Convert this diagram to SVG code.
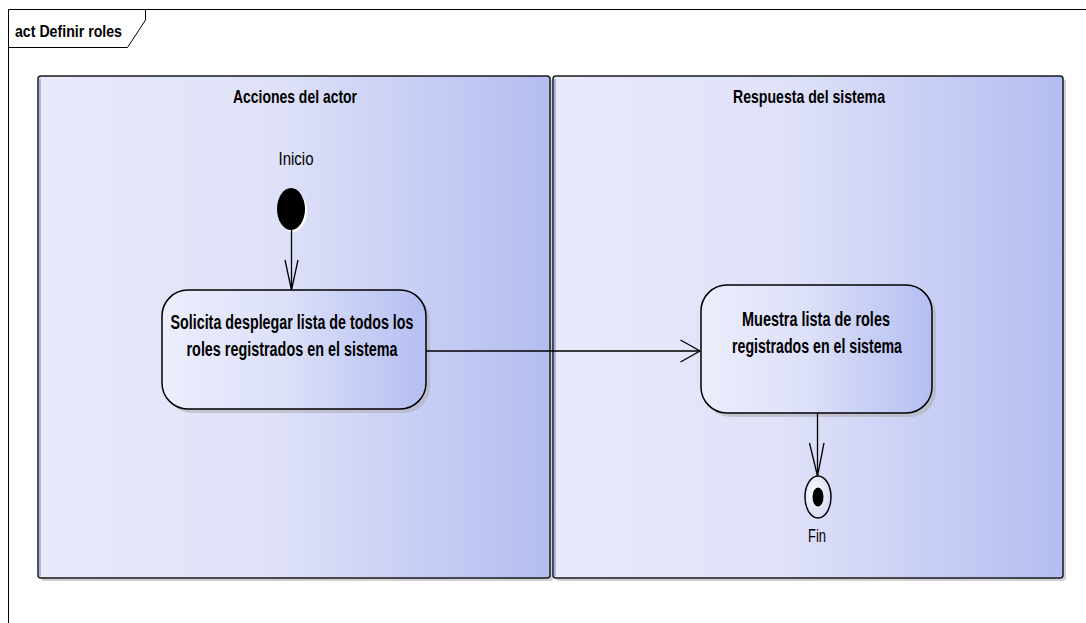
<svg xmlns="http://www.w3.org/2000/svg" width="1086" height="623" viewBox="0 0 1086 623">
<defs>
<linearGradient id="gpart" x1="0" y1="0" x2="1" y2="0">
<stop offset="0" stop-color="#e8eafa"/>
<stop offset="0.45" stop-color="#dfe2f8"/>
<stop offset="1" stop-color="#b4bdf1"/>
</linearGradient>
<linearGradient id="gact" x1="0" y1="0" x2="1" y2="0">
<stop offset="0" stop-color="#eceefc"/>
<stop offset="0.45" stop-color="#dde1f9"/>
<stop offset="1" stop-color="#b5bef2"/>
</linearGradient>
<radialGradient id="gfin" cx="0.4" cy="0.4" r="0.7">
<stop offset="0" stop-color="#ffffff"/>
<stop offset="1" stop-color="#d0d5f4"/>
</radialGradient>
</defs>
<style>
.frame{fill:none;stroke:#000;stroke-width:1}
.part{fill:url(#gpart);stroke:#1a1a1a;stroke-width:1.5}
.act{fill:url(#gact);stroke:#000;stroke-width:1.5}
.shadow{fill:#b0b0b8;opacity:0.6}
.t{font-family:"Liberation Sans Narrow","Liberation Sans",Arial,sans-serif;fill:#000}
.b{font-weight:bold}
.edge{fill:none;stroke:#000;stroke-width:1.3}
</style>
<g id="frame">
<path class="frame" d="M8.5,623 V9.5 H1086"/>
<path class="frame" d="M8.5,47.5 H127.5 L145.5,20 V9.5"/>
<text class="t b" x="15" y="37" font-size="17" textLength="107" lengthAdjust="spacingAndGlyphs">act Definir roles</text>
</g>
<g id="partition-actor">
<rect class="shadow" x="41" y="79" width="512" height="502" rx="3"/>
<rect class="part" x="38" y="76" width="512" height="502" rx="3"/>
<line x1="40" y1="79" x2="40" y2="576" stroke="#a9b3ee" stroke-width="2"/>
<text class="t b" x="295" y="103" font-size="18.5" text-anchor="middle" textLength="124" lengthAdjust="spacingAndGlyphs">Acciones del actor</text>
</g>
<g id="partition-sistema">
<rect class="shadow" x="556" y="79" width="510" height="502" rx="3"/>
<rect class="part" x="553" y="76" width="510" height="502" rx="3"/>
<line x1="555" y1="79" x2="555" y2="576" stroke="#a9b3ee" stroke-width="2"/>
<text class="t b" x="809" y="103" font-size="18.5" text-anchor="middle" textLength="152" lengthAdjust="spacingAndGlyphs">Respuesta del sistema</text>
</g>
<g id="inicio">
<ellipse cx="293" cy="211" rx="14" ry="21" fill="#fff"/>
<ellipse cx="291" cy="209" rx="14" ry="21" fill="#000"/>
<text class="t" x="296" y="165" font-size="18" text-anchor="middle" textLength="35" lengthAdjust="spacingAndGlyphs">Inicio</text>
</g>
<g id="solicita">
<rect class="shadow" x="166" y="294" width="264" height="119" rx="26"/>
<rect class="act" x="162" y="290" width="264" height="119" rx="26"/>
<text class="t b" x="292" y="329" font-size="19.5" text-anchor="middle" textLength="243" lengthAdjust="spacingAndGlyphs">Solicita desplegar lista de todos los</text>
<text class="t b" x="292" y="356" font-size="19.5" text-anchor="middle" textLength="211" lengthAdjust="spacingAndGlyphs">roles registrados en el sistema</text>
</g>
<g id="muestra">
<rect class="shadow" x="705" y="289" width="231" height="128" rx="26"/>
<rect class="act" x="701" y="285" width="231" height="128" rx="26"/>
<text class="t b" x="816" y="326" font-size="19.5" text-anchor="middle" textLength="148" lengthAdjust="spacingAndGlyphs">Muestra lista de roles</text>
<text class="t b" x="817" y="353" font-size="19.5" text-anchor="middle" textLength="170" lengthAdjust="spacingAndGlyphs">registrados en el sistema</text>
</g>
<g id="fin">
<ellipse cx="818" cy="497" rx="13" ry="21" fill="url(#gfin)" stroke="#000" stroke-width="1.5"/>
<ellipse cx="818" cy="497" rx="5.5" ry="9.5" fill="#000"/>
<text class="t" x="817" y="542" font-size="18" text-anchor="middle" textLength="18" lengthAdjust="spacingAndGlyphs">Fin</text>
</g>
<g id="connectors">
<path class="edge" d="M291.5,230 V290"/>
<path class="edge" d="M285,260 L291.5,290 L298,260"/>
<path class="edge" d="M426,351 H700"/>
<path class="edge" d="M680.5,340 L700,351 L680.5,362"/>
<path class="edge" d="M817.5,413 V476"/>
<path class="edge" d="M809.5,443 L817.5,476 L824,443"/>
</g>
</svg>
